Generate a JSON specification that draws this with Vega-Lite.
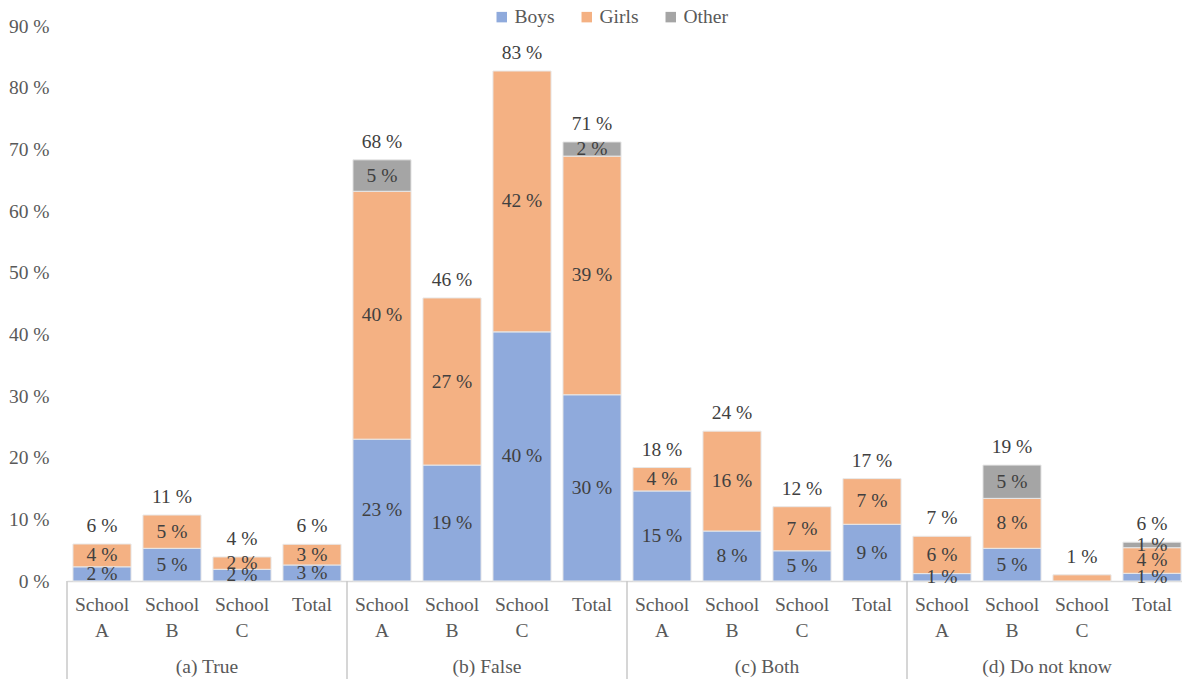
{
  "$schema": "https://vega.github.io/schema/vega-lite/v6.json",
  "autosize": "none",
  "width": 1120,
  "height": 555,
  "padding": {"left": 67, "top": 26, "right": 0, "bottom": 98},
  "background": "white",
  "config": {
    "view": {"stroke": null},
    "font": "Liberation Serif",
    "text": {"font": "Liberation Serif", "fontSize": 19.5, "color": "#404040"}
  },
  "datasets": {
    "shares": [
      {"grp": "(a) True", "school": "School A", "sex": "Boys", "ord": 1, "value": 2.3},
      {"grp": "(a) True", "school": "School A", "sex": "Girls", "ord": 2, "value": 3.7},
      {"grp": "(a) True", "school": "School B", "sex": "Boys", "ord": 1, "value": 5.3},
      {"grp": "(a) True", "school": "School B", "sex": "Girls", "ord": 2, "value": 5.4},
      {"grp": "(a) True", "school": "School C", "sex": "Boys", "ord": 1, "value": 1.9},
      {"grp": "(a) True", "school": "School C", "sex": "Girls", "ord": 2, "value": 2.0},
      {"grp": "(a) True", "school": "Total", "sex": "Boys", "ord": 1, "value": 2.6},
      {"grp": "(a) True", "school": "Total", "sex": "Girls", "ord": 2, "value": 3.35},
      {"grp": "(b) False", "school": "School A", "sex": "Boys", "ord": 1, "value": 23.0},
      {"grp": "(b) False", "school": "School A", "sex": "Girls", "ord": 2, "value": 40.2},
      {"grp": "(b) False", "school": "School A", "sex": "Other", "ord": 3, "value": 5.1},
      {"grp": "(b) False", "school": "School B", "sex": "Boys", "ord": 1, "value": 18.8},
      {"grp": "(b) False", "school": "School B", "sex": "Girls", "ord": 2, "value": 27.1},
      {"grp": "(b) False", "school": "School C", "sex": "Boys", "ord": 1, "value": 40.4},
      {"grp": "(b) False", "school": "School C", "sex": "Girls", "ord": 2, "value": 42.3},
      {"grp": "(b) False", "school": "Total", "sex": "Boys", "ord": 1, "value": 30.2},
      {"grp": "(b) False", "school": "Total", "sex": "Girls", "ord": 2, "value": 38.7},
      {"grp": "(b) False", "school": "Total", "sex": "Other", "ord": 3, "value": 2.3},
      {"grp": "(c) Both", "school": "School A", "sex": "Boys", "ord": 1, "value": 14.6},
      {"grp": "(c) Both", "school": "School A", "sex": "Girls", "ord": 2, "value": 3.8},
      {"grp": "(c) Both", "school": "School B", "sex": "Boys", "ord": 1, "value": 8.1},
      {"grp": "(c) Both", "school": "School B", "sex": "Girls", "ord": 2, "value": 16.2},
      {"grp": "(c) Both", "school": "School C", "sex": "Boys", "ord": 1, "value": 4.9},
      {"grp": "(c) Both", "school": "School C", "sex": "Girls", "ord": 2, "value": 7.15},
      {"grp": "(c) Both", "school": "Total", "sex": "Boys", "ord": 1, "value": 9.2},
      {"grp": "(c) Both", "school": "Total", "sex": "Girls", "ord": 2, "value": 7.4},
      {"grp": "(d) Do not know", "school": "School A", "sex": "Boys", "ord": 1, "value": 1.2},
      {"grp": "(d) Do not know", "school": "School A", "sex": "Girls", "ord": 2, "value": 6.05},
      {"grp": "(d) Do not know", "school": "School B", "sex": "Boys", "ord": 1, "value": 5.3},
      {"grp": "(d) Do not know", "school": "School B", "sex": "Girls", "ord": 2, "value": 8.1},
      {"grp": "(d) Do not know", "school": "School B", "sex": "Other", "ord": 3, "value": 5.4},
      {"grp": "(d) Do not know", "school": "School C", "sex": "Girls", "ord": 2, "value": 1.0},
      {"grp": "(d) Do not know", "school": "Total", "sex": "Boys", "ord": 1, "value": 1.25},
      {"grp": "(d) Do not know", "school": "Total", "sex": "Girls", "ord": 2, "value": 4.15},
      {"grp": "(d) Do not know", "school": "Total", "sex": "Other", "ord": 3, "value": 0.9}
    ],
    "groups": [
      {"grp": "(a) True", "first": "(a) True|School A", "mid": "(a) True|School C"},
      {"grp": "(b) False", "first": "(b) False|School A", "mid": "(b) False|School C"},
      {"grp": "(c) Both", "first": "(c) Both|School A", "mid": "(c) Both|School C"},
      {"grp": "(d) Do not know", "first": "(d) Do not know|School A", "mid": "(d) Do not know|School C"}
    ]
  },
  "data": {"name": "shares"},
  "transform": [
    {"calculate": "datum.grp + '|' + datum.school", "as": "bar"}
  ],
  "encoding": {
    "x": {
      "field": "bar",
      "type": "nominal",
      "sort": null,
      "scale": {"type": "band", "paddingInner": 0, "paddingOuter": 0},
      "axis": {
        "title": null,
        "ticks": false,
        "domain": true,
        "domainColor": "#d9d9d9",
        "domainWidth": 1.5,
        "labelAngle": 0,
        "labelFont": "Liberation Serif",
        "labelFontSize": 19.5,
        "labelColor": "#595959",
        "labelPadding": 14,
        "labelLineHeight": 26,
        "labelExpr": "split(split(datum.value, '|')[1], ' ')"
      }
    }
  },
  "layer": [
    {
      "mark": {"type": "bar", "width": {"band": 0.83}, "stroke": "#e8e8e8", "strokeWidth": 1},
      "encoding": {
        "y": {
          "field": "value",
          "type": "quantitative",
          "stack": "zero",
          "scale": {"domain": [0, 90], "nice": false, "zero": true},
          "axis": {
            "title": null,
            "values": [0, 10, 20, 30, 40, 50, 60, 70, 80, 90],
            "grid": false,
            "ticks": false,
            "domain": false,
            "labelFont": "Liberation Serif",
            "labelFontSize": 19.5,
            "labelColor": "#595959",
            "labelPadding": 18,
            "labelExpr": "datum.value + ' %'"
          }
        },
        "order": {"field": "ord", "type": "quantitative"},
        "color": {
          "field": "sex",
          "type": "nominal",
          "scale": {"domain": ["Boys", "Girls", "Other"], "range": ["#8faadc", "#f4b183", "#a5a5a5"]},
          "legend": {
            "title": null,
            "orient": "none",
            "direction": "horizontal",
            "legendX": 425,
            "legendY": -19,
            "symbolType": "square",
            "symbolSize": 110,
            "symbolStrokeWidth": 0,
            "labelFont": "Liberation Serif",
            "labelFontSize": 19.5,
            "labelColor": "#595959",
            "columnPadding": 22,
            "labelOffset": 3
          }
        }
      }
    },
    {
      "transform": [
        {"filter": "!(datum.grp == '(d) Do not know' && datum.school == 'School C')"},
        {"calculate": "format(datum.value, '.0f') + ' %'", "as": "lbl"}
      ],
      "mark": {"type": "text", "baseline": "middle", "align": "center"},
      "encoding": {
        "y": {"field": "value", "type": "quantitative", "stack": "zero", "bandPosition": 0.5},
        "order": {"field": "ord", "type": "quantitative"},
        "text": {"field": "lbl"}
      }
    },
    {
      "transform": [
        {"aggregate": [{"op": "sum", "field": "value", "as": "total"}], "groupby": ["bar"]},
        {"calculate": "format(datum.total, '.0f') + ' %'", "as": "lbl"}
      ],
      "mark": {"type": "text", "baseline": "middle", "align": "center", "dy": -18},
      "encoding": {
        "y": {"field": "total", "type": "quantitative"},
        "text": {"field": "lbl"}
      }
    },
    {
      "data": {"name": "groups"},
      "mark": {"type": "rule", "color": "#c8c8c8", "strokeWidth": 1.5},
      "encoding": {
        "x": {"field": "first", "type": "nominal", "bandPosition": 0},
        "y": {"datum": 0},
        "y2": {"datum": -16.2}
      }
    },
    {
      "data": {"name": "groups"},
      "mark": {"type": "text", "baseline": "middle", "align": "center", "color": "#595959"},
      "encoding": {
        "x": {"field": "mid", "type": "nominal", "bandPosition": 0},
        "y": {"datum": -13.95},
        "text": {"field": "grp"}
      }
    }
  ]
}
